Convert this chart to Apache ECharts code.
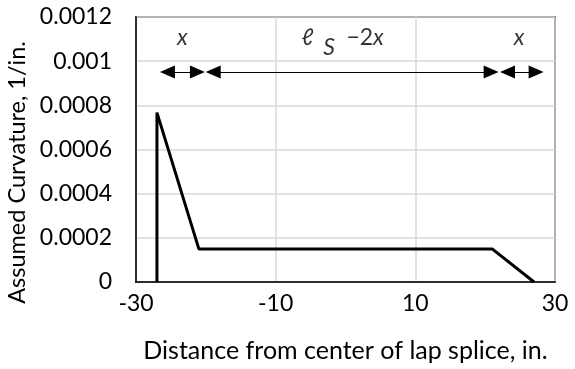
<!DOCTYPE html>
<html><head><meta charset="utf-8">
<script src="https://cdn.jsdelivr.net/npm/echarts@6/dist/echarts.min.js"></script>
<style>html,body{margin:0;padding:0;background:#fff}#c{width:575px;height:369px}</style>
</head><body><div id="c"></div>
<script>
// Curvature profile
const xValues = [-27, -27, -21, 21, 27];
const curvature = [0, 0.000767, 0.00015, 0.00015, 0];
// Dimension arrows (start x, end x) at arrow height (arrow-head centres)
const arrowStarts = [-25.5, -18.95, 23.2];
const arrowEnds = [-21.2, 20.85, 27.3];
const arrowY = 0.000951;
// Dimension labels
const labelX = [-23.35, -5.45, -2.35, 2.8, 24.85];
const labelY = [0.001106, 0.001106, 0.00106, 0.001106, 0.001106];
const labelText = ['x', 'ℓ', 'S', '{n|−2}{i|x}', 'x'];
const xTicks = [-30, -10, 10, 30];
const yTicks = [0, 0.0002, 0.0004, 0.0006, 0.0008, 0.001, 0.0012];

const font = 'Lato';
const chart = echarts.init(document.getElementById('c'));
chart.setOption({
  animation: false,
  textStyle: {fontFamily: font, color: '#000'},
  grid: {left: 136, right: 20, top: 17, bottom: 87, show: true, borderColor: '#000', borderWidth: 1.5,
    containLabel: false, outerBoundsMode: 'none'},
  xAxis: {
    type: 'value', min: -30, max: 30, interval: 20,
    name: 'Distance from center of lap splice, in.', nameLocation: 'middle', nameGap: 56,
    nameTextStyle: {fontFamily: font, fontSize: 25, color: '#000'},
    axisLine: {show: true, onZero: false, lineStyle: {color: '#000', width: 1.5}},
    axisTick: {show: false},
    axisLabel: {fontFamily: font, fontSize: 23, color: '#000', margin: 10,
      formatter: v => xTicks.includes(v) ? String(v) : ''},
    splitLine: {show: true, lineStyle: {color: '#d9d9d9', width: 1.5}}
  },
  yAxis: {
    type: 'value', min: 0, max: 0.0012, interval: 0.0002,
    name: 'Assumed Curvature, 1/in.', nameLocation: 'middle', nameGap: 85,
    nameTextStyle: {fontFamily: font, fontSize: 23.5, color: '#000', padding: [0, 46, 0, 0]},
    axisLine: {show: true, onZero: false, lineStyle: {color: '#000', width: 1.5}},
    axisTick: {show: false},
    axisLabel: {fontFamily: font, fontSize: 23, color: '#000', margin: 24,
      formatter: v => { const t = yTicks.find(y => Math.abs(y - v) < 1e-9); return t === undefined ? '' : String(t); }},
    splitLine: {show: true, lineStyle: {color: '#d9d9d9', width: 1.5}}
  },
  series: [
    {
      type: 'line', data: xValues.map((x, i) => [x, curvature[i]]),
      symbol: 'none', lineStyle: {color: '#000', width: 3}, z: 5,
      markLine: {
        silent: true, symbol: ['triangle', 'triangle'], symbolSize: [13, 15],
        label: {show: false},
        lineStyle: {color: '#000', width: 1, type: 'solid'},
        data: arrowStarts.map((s, i) => [{coord: [s, arrowY]}, {coord: [arrowEnds[i], arrowY]}])
      }
    },
    {
      type: 'scatter', symbolSize: 0,
      data: labelX.map((x, i) => ({value: [x, labelY[i]], label: {formatter: labelText[i]}})),
      label: {
        show: true, position: 'inside', color: '#000',
        fontFamily: font, fontStyle: 'italic', fontSize: 23,
        rich: {
          i: {fontFamily: font, fontStyle: 'italic', fontSize: 23, color: '#000'},
          n: {fontFamily: font, fontStyle: 'normal', fontSize: 23, color: '#000'}
        }
      }
    }
  ]
});
</script></body></html>
